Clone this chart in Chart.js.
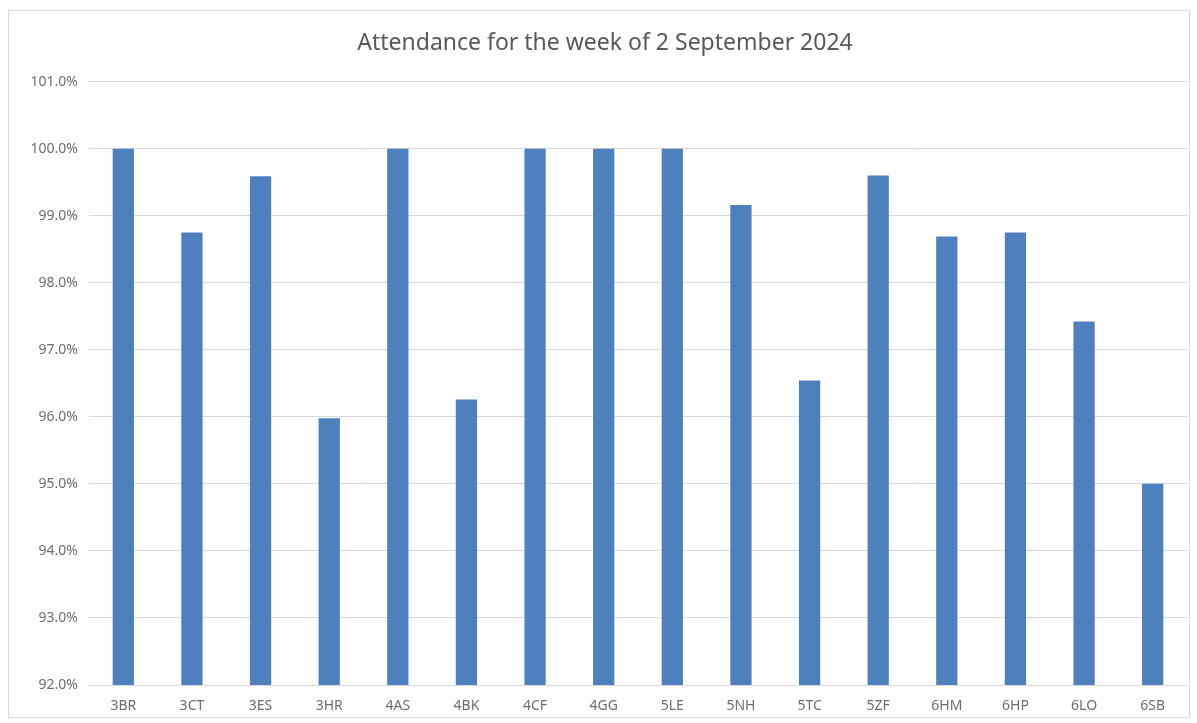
<!DOCTYPE html>
<html>
<head>
<meta charset="utf-8">
<title>Attendance</title>
<script src="https://cdn.jsdelivr.net/npm/chart.js@4"></script>
<style>
    body { margin: 0; background: #fff; }
    #frame {
        position: absolute;
        left: 8px; top: 10px;
        width: 1180px; height: 706px;
        border: 1px solid #d9d9d9;
    }
    #attChart { position: absolute; left: 0; top: 0; }
</style>
</head>
<body>
<div id="frame"></div>
<canvas id="attChart" width="1197" height="723"></canvas>
<script>
// Data
const classes = ["3BR", "3CT", "3ES", "3HR", "4AS", "4BK", "4CF", "4GG",
    "5LE", "5NH", "5TC", "5ZF", "6HM", "6HP", "6LO", "6SB"];
const attendance = [100, 98.75, 99.59, 95.98, 100, 96.26, 100, 100,
    100, 99.16, 96.54, 99.6, 98.69, 98.75, 97.42, 95.0];
const yMin = 92;
const yMax = 101;

const labelFont = { family: "'Noto Sans', sans-serif", size: 14 };

// Chart
const ctx = document.getElementById("attChart");

const chart = new Chart(ctx, {
    type: "bar",
    data: {
        labels: classes,
        datasets: [{
            label: "Attendance",
            data: attendance,
            backgroundColor: "#4e80bd",
            barPercentage: 0.62,
            categoryPercentage: 0.5
        }]
    },
    options: {
        responsive: false,
        animation: false,
        layout: {
            padding: { left: 23, right: 10, top: 0, bottom: 0 }
        },
        plugins: {
            legend: { display: false },
            tooltip: { enabled: false },
            title: {
                display: true,
                text: "Attendance for the week of 2 September 2024",
                color: "#595959",
                font: { family: "'Noto Sans', sans-serif", size: 23, weight: "normal" },
                padding: { top: 30, bottom: 24 }
            }
        },
        scales: {
            x: {
                afterFit: (scale) => { scale.height = 38; },
                grid: { display: false, drawTicks: false },
                border: { display: false },
                ticks: {
                    color: "#6e6e6e",
                    padding: 13,
                    font: labelFont
                }
            },
            y: {
                min: yMin,
                max: yMax,
                afterFit: (scale) => { scale.width = 66; },
                grid: { color: "#d9d9d9", drawTicks: false },
                border: { display: false },
                ticks: {
                    stepSize: 1,
                    color: "#6e6e6e",
                    padding: 11,
                    font: labelFont,
                    callback: (v) => v.toFixed(1) + "%"
                }
            }
        }
    }
});
</script>
</body>
</html>
